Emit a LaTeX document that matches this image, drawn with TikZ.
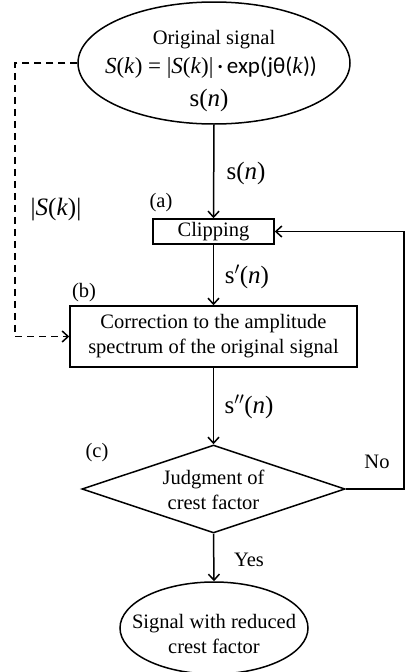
\documentclass[tikz,border=0pt]{standalone}
\usepackage{fontspec}
\setmainfont{Liberation Serif}
\setsansfont{Carlito}
\usetikzlibrary{shapes.geometric,arrows.meta}
\tikzset{
  base/.style={font=\fontsize{20.5}{25}\selectfont},
  mth/.style={font=\fontsize{25}{30}\selectfont, inner sep=0pt, anchor=center},
  outl/.style={draw, line width=1.5pt, inner sep=0pt},
  lbl/.style={base, inner sep=0pt, anchor=center},
  flow/.style={line width=1.5pt, -{Straight Barb[length=6pt,width=11pt,line width=1.5pt]}},
  dashflow/.style={flow, dash pattern=on 7pt off 5pt},
}
\newcommand{\sig}[1]{\textrm{s}#1(\textit{n})}
\begin{document}
\begin{tikzpicture}[x=1pt,y=-1pt]
\useasboundingbox (0,0) rectangle (405,672);
% shapes
\node[outl, ellipse, minimum width=272pt, minimum height=122pt] (top) at (214,63) {};
\node[lbl] (t1) at (214,40) {Original signal};
\node[mth, font=\fontsize{23}{28}\selectfont] (t2) at (211,68) {\textit{S}(\textit{k}) = |\textit{S}(\textit{k})|{\sffamily\,·\,exp(jθ(}\textit{k}{\sffamily))}};
\node[mth] (t3) at (209,100) {\sig{}};
\node[outl, rectangle, minimum width=121pt, minimum height=25pt, base] (clip) at (213.5,231.5) {Clipping};
\node[outl, rectangle, minimum width=287pt, minimum height=61pt, base, align=center] (corr) at (213.5,336.5) {Correction to the amplitude\\spectrum of the original signal};
\node[outl, diamond, minimum width=263pt, minimum height=88pt, aspect=2.99] (dia) at (213.5,489) {};
\node[lbl, align=center] (diat) at (213.5,490) {Judgment of\\crest factor};
\node[outl, ellipse, minimum width=188pt, minimum height=92pt] (bot) at (214,628) {};
\node[lbl, align=center] (bott) at (214,634) {Signal with reduced\\crest factor};
% labels
\node[mth] (l1) at (246,173) {\sig{}};
\node[mth] (l2) at (56,210) {|\textit{S}(\textit{k})|};
\node[lbl] (la) at (161,203) {(a)};
\node[mth] (l3) at (247,277) {\sig{$'$}};
\node[lbl] (lb) at (84,293) {(b)};
\node[mth] (l4) at (249,407) {\sig{$''$}};
\node[lbl] (lc) at (97,453) {(c)};
\node[lbl] (lno) at (377,462) {No};
\node[lbl] (lyes) at (249,560) {Yes};
% connectors
\coordinate (c1) at (404,489);
\coordinate (c2) at (404,231.5);
\coordinate (d1) at (15,63);
\coordinate (d2) at (15,336.5);
\draw[flow] (top.south) -- (clip.north);
\draw[flow] (clip.south) -- (corr.north);
\draw[flow] (corr.south) -- (dia.north);
\draw[flow] (dia.south) -- (bot.north);
\draw[flow] (dia.east) -- (c1) -- (c2) -- (clip.east);
\draw[dashflow] (top.west) -- (d1) -- (d2) -- (corr.west);
\end{tikzpicture}
\end{document}
